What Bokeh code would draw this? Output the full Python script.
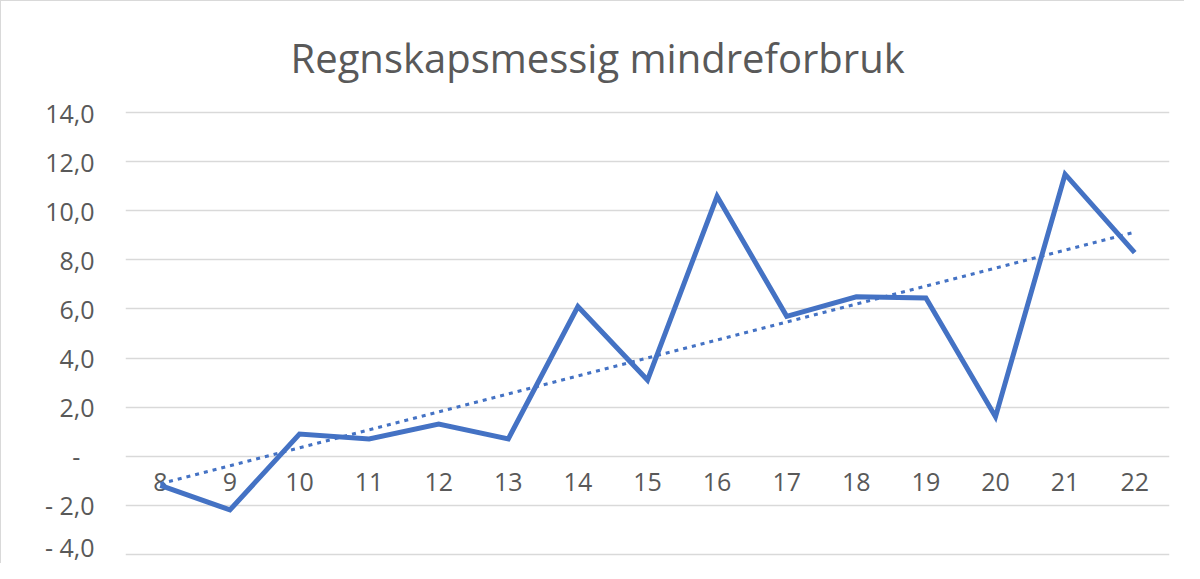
import numpy as np
from bokeh.plotting import figure
from bokeh.models import Range1d, FixedTicker, Title, ColumnDataSource
from bokeh.core.properties import value
from bokeh.embed import file_html
from bokeh.resources import INLINE

# ---- data ----
title_text = "Regnskapsmessig mindreforbruk"
categories = [8, 9, 10, 11, 12, 13, 14, 15, 16, 17, 18, 19, 20, 21, 22]
values = [-1.2, -2.2, 0.9, 0.7, 1.3, 0.7, 6.1, 3.1, 10.6, 5.7, 6.5, 6.45, 1.6, 11.5, 8.3]
y_ticks = [-4, -2, 0, 2, 4, 6, 8, 10, 12, 14]
y_tick_labels = ["- 4,0", "- 2,0", "-\u2007", "2,0", "4,0", "6,0", "8,0", "10,0", "12,0", "14,0"]

FONT = "Open Sans"
BLUE = "#4472C4"
TXT = "#595959"

# linear trendline (least squares, as Excel's linear trendline)
slope, intercept = np.polyfit(categories, values, 1)
trend = [slope * c + intercept for c in categories]

p = figure(
    width=1184, height=563,
    x_range=Range1d(7.5, 22.5), y_range=Range1d(-4.1, 14.1),
    output_backend="svg", toolbar_location=None,
    min_border_left=124, min_border_right=16,
    min_border_top=100, min_border_bottom=8,
    title=None,
)
p.styles = {"border-top": "1px solid #d9d9d9", "border-left": "1px solid #d9d9d9"}
p.outline_line_color = None
p.background_fill_color = "white"
p.border_fill_color = "white"

t = Title(text=title_text, align="left", offset=165, standoff=52,
          text_font=FONT, text_font_size="40px", text_font_style="normal",
          text_color=TXT)
p.add_layout(t, "above")

# axes
p.xaxis.visible = False
ya = p.yaxis[0]
ya.ticker = FixedTicker(ticks=y_ticks)
ya.major_label_overrides = {tv: lab for tv, lab in zip(y_ticks, y_tick_labels)}
ya.axis_line_color = None
ya.major_tick_line_color = None
ya.minor_tick_line_color = None
ya.major_tick_out = 0
ya.major_tick_in = 0
ya.minor_tick_out = 0
ya.major_label_standoff = 31
ya.major_label_text_font = FONT
ya.major_label_text_font_size = "25px"
ya.major_label_text_color = TXT

p.xgrid.visible = False
p.ygrid.ticker = FixedTicker(ticks=y_ticks)
p.ygrid.grid_line_color = "#d9d9d9"
p.ygrid.grid_line_width = 1.5

src = ColumnDataSource(dict(x=categories, y=values, trend=trend,
                            zero=[0] * len(categories),
                            lab=[str(c) for c in categories]))

# category labels sitting just below the zero line
p.text(x="x", y="zero", text="lab", source=src, text_align="center",
       text_baseline="middle", y_offset=26, text_font=value(FONT),
       text_font_size="25px", text_color=TXT)

p.line(x="x", y="y", source=src, line_color=BLUE, line_width=5,
       line_join="miter")
p.line(x="x", y="trend", source=src, line_color=BLUE, line_width=3,
       line_dash="4 5")

open("out.html", "w").write(file_html(p, INLINE))
